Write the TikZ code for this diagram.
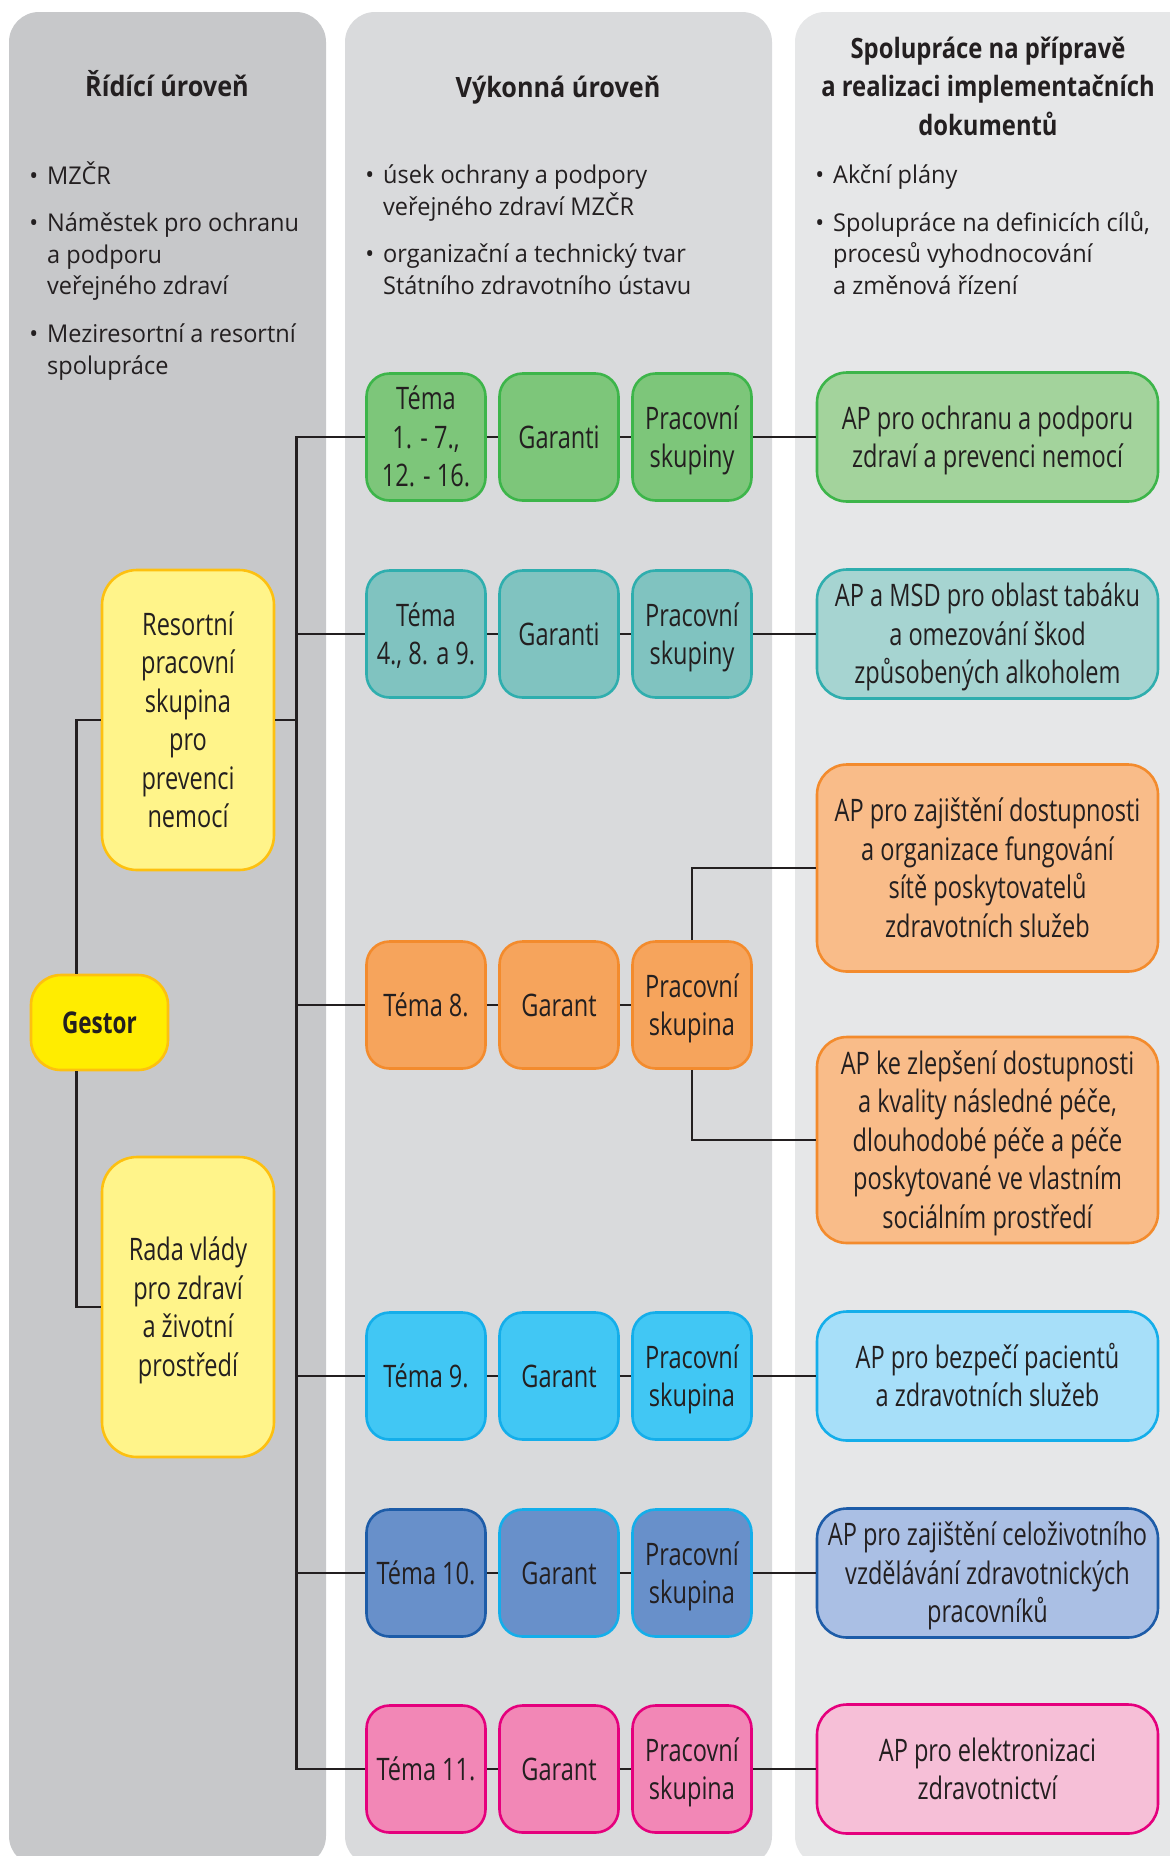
\documentclass[tikz,border=0pt]{standalone}
\usepackage{fontspec}
\setmainfont{Open Sans}
\newfontfamily\bulfont[FakeStretch=0.96]{Open Sans}
\newfontfamily\boxfont[FakeStretch=0.76]{Open Sans}
\newfontfamily\headfont[FakeStretch=0.9]{Open Sans}
\newfontfamily\headfontnarrow[FakeStretch=0.85]{Open Sans}
\newfontfamily\gestorfont[FakeStretch=0.75]{Open Sans}
\usepackage{tikz}

\definecolor{ink}{HTML}{231F20}
\definecolor{colA}{HTML}{C7C8CA}
\definecolor{colB}{HTML}{D9DADC}
\definecolor{colC}{HTML}{E6E7E8}
\definecolor{grnF}{HTML}{7DC67A}
\definecolor{grnD}{HTML}{3DB54A}
\definecolor{grnL}{HTML}{A3D39C}
\definecolor{tealF}{HTML}{80C3C0}
\definecolor{tealD}{HTML}{2FAEAE}
\definecolor{tealL}{HTML}{A6D4D1}
\definecolor{orgF}{HTML}{F6A45C}
\definecolor{orgD}{HTML}{F38B2D}
\definecolor{orgL}{HTML}{F9BC89}
\definecolor{skyF}{HTML}{41C7F4}
\definecolor{skyD}{HTML}{14AEEA}
\definecolor{skyL}{HTML}{A7DFF9}
\definecolor{bluF}{HTML}{6890CA}
\definecolor{bluD}{HTML}{1D5CA8}
\definecolor{bluL}{HTML}{AABFE4}
\definecolor{pnkF}{HTML}{F287B6}
\definecolor{pnkD}{HTML}{E5007D}
\definecolor{pnkL}{HTML}{F6BFD7}
\definecolor{ylwF}{HTML}{FFF48A}
\definecolor{ylwD}{HTML}{FDC010}
\definecolor{gstF}{HTML}{FFED00}

\newcommand{\pnt}{\llap{•\hspace{9pt}}}

\tikzset{
  box/.style={draw, line width=2.6pt, rounded corners=23pt, minimum width=119pt,
    minimum height=127pt, inner sep=0pt, align=center, text=ink,
    font=\boxfont\fontsize{31}{38.5}\selectfont,
    execute at end node=\rule[-8pt]{0pt}{8pt}},
  nlines/.style={execute at begin node={\rule{0pt}{\dimexpr 38.5pt*#1-8pt\relax}}},
  apbox/.style={box, rounded corners=30pt, minimum width=341pt, minimum height=129pt},
  sidebox/.style={box, rounded corners=35pt, minimum width=172pt, minimum height=300pt},
  link/.style={draw=ink, line width=2.6pt},
  bul/.style={anchor=north west, align=left, text=ink, inner sep=0pt,
    font=\bulfont\fontsize{24.5}{31.5}\selectfont,
    execute at begin node=\strut, execute at end node=\strut},
  head/.style={align=center, text=ink, inner sep=0pt,
    font=\headfont\bfseries\fontsize{28}{38.5}\selectfont}
}

\begin{document}
\begin{tikzpicture}[x=1pt,y=-1pt]
\useasboundingbox (0,0) rectangle (1170,1856);
\clip (0,0) rectangle (1170,1856);

% columns
\fill[colA, rounded corners=30pt] (9,12) rectangle (326,1866);
\fill[colB, rounded corners=30pt] (345,12) rectangle (772,1866);
\fill[colC, rounded corners=30pt] (795,12) rectangle (1230,1866);

% headings
\node[head, anchor=base] (h1) at (167,96) {Řídící úroveň};
\node[head, anchor=base] (h2) at (558,97) {Výkonná úroveň};
\node[head, font=\headfontnarrow\bfseries\fontsize{28}{38.5}\selectfont,
  execute at begin node=\strut, execute at end node=\strut] (h3) at (988,92)
  {Spolupráce na přípravě\\a realizaci implementačních\\dokumentů};

% bullet texts
\node[bul] (l1) at (47,161) {\pnt MZČR};
\node[bul] (l2) at (47,213) {\pnt Náměstek pro ochranu\\a podporu\\veřejného zdraví};
\node[bul] (l3) at (47,324) {\pnt Meziresortní a resortní\\spolupráce};
\node[bul] (v1) at (383,165) {\pnt úsek ochrany a podpory\\veřejného zdraví MZČR};
\node[bul] (v2) at (383,244) {\pnt organizační a technický tvar\\Státního zdravotního ústavu};
\node[bul] (s1) at (833,161) {\pnt Akční plány};
\node[bul] (s2) at (833,211) {\pnt Spolupráce na definicích cílů,\\procesů vyhodnocování\\a změnová řízení};

% left side
\node[sidebox, nlines=6, fill=ylwF, draw=ylwD] (rp) at (188,720)
  {Resortní\\pracovní\\skupina\\pro\\prevenci\\nemocí};
\node[box, nlines=1, fill=gstF, draw=ylwD, rounded corners=30pt, minimum width=137pt,
  minimum height=95pt, font=\gestorfont\bfseries\fontsize{30}{36}\selectfont] (ge) at (99.5,1022.5) {Gestor};
\node[sidebox, nlines=4, fill=ylwF, draw=ylwD] (rv) at (188,1307)
  {Rada vlády\\pro zdraví\\a životní\\prostředí};

% rows
\node[box, nlines=3, fill=grnF, draw=grnD] (t1) at (426,437) {Téma\\1. - 7.,\\12. - 16.};
\node[box, nlines=1, fill=grnF, draw=grnD] (g1) at (559,437) {Garanti};
\node[box, nlines=2, fill=grnF, draw=grnD] (p1) at (692,437) {Pracovní\\skupiny};
\node[apbox, nlines=2, fill=grnL, draw=grnD] (a1) at (987.5,437) {AP pro ochranu a podporu\\zdraví a prevenci nemocí};

\node[box, nlines=2, fill=tealF, draw=tealD] (t2) at (426,634) {Téma\\4., 8. a 9.};
\node[box, nlines=1, fill=tealF, draw=tealD] (g2) at (559,634) {Garanti};
\node[box, nlines=2, fill=tealF, draw=tealD] (p2) at (692,634) {Pracovní\\skupiny};
\node[apbox, nlines=3, fill=tealL, draw=tealD] (a2) at (987.5,634) {AP a MSD pro oblast tabáku\\a omezování škod\\způsobených alkoholem};

\node[box, nlines=1, fill=orgF, draw=orgD] (t3) at (426,1005) {Téma 8.};
\node[box, nlines=1, fill=orgF, draw=orgD] (g3) at (559,1005) {Garant};
\node[box, nlines=2, fill=orgF, draw=orgD] (p3) at (692,1005) {Pracovní\\skupina};
\node[apbox, nlines=4, fill=orgL, draw=orgD, minimum height=207pt] (a3) at (987.5,868)
  {AP pro zajištění dostupnosti\\a organizace fungování\\sítě poskytovatelů\\zdravotních služeb};
\node[apbox, nlines=5, fill=orgL, draw=orgD, minimum height=206pt] (a4) at (987.5,1140)
  {AP ke zlepšení dostupnosti\\a kvality následné péče,\\dlouhodobé péče a péče\\poskytované ve vlastním\\sociálním prostředí};

\node[box, nlines=1, fill=skyF, draw=skyD] (t4) at (426,1376) {Téma 9.};
\node[box, nlines=1, fill=skyF, draw=skyD] (g4) at (559,1376) {Garant};
\node[box, nlines=2, fill=skyF, draw=skyD] (p4) at (692,1376) {Pracovní\\skupina};
\node[apbox, nlines=2, fill=skyL, draw=skyD] (a5) at (987.5,1376) {AP pro bezpečí pacientů\\a zdravotních služeb};

\node[box, nlines=1, fill=bluF, draw=bluD] (t5) at (426,1573) {Téma 10.};
\node[box, nlines=1, fill=bluF, draw=skyD] (g5) at (559,1573) {Garant};
\node[box, nlines=2, fill=bluF, draw=skyD] (p5) at (692,1573) {Pracovní\\skupina};
\node[apbox, nlines=3, fill=bluL, draw=bluD] (a6) at (987.5,1573) {AP pro zajištění celoživotního\\vzdělávání zdravotnických\\pracovníků};

\node[box, nlines=1, fill=pnkF, draw=pnkD] (t6) at (426,1769) {Téma 11.};
\node[box, nlines=1, fill=pnkF, draw=pnkD] (g6) at (559,1769) {Garant};
\node[box, nlines=2, fill=pnkF, draw=pnkD] (p6) at (692,1769) {Pracovní\\skupina};
\node[apbox, nlines=2, fill=pnkL, draw=pnkD] (a7) at (987.5,1769) {AP pro elektronizaci\\zdravotnictví};

% connectors
\coordinate (trunk) at (296.5,437);
\draw[link] ([xshift=-23pt]ge.north) |- (rp.west);
\draw[link] ([xshift=-23pt]ge.south) |- (rv.west);
\draw[link] (rp.east) -- (rp.east -| trunk);
\draw[link] (t1.west) -- (trunk) |- (t6.west);
\draw[link] (t2.west) -- (t2.west -| trunk);
\draw[link] (t3.west) -- (t3.west -| trunk);
\draw[link] (t4.west) -- (t4.west -| trunk);
\draw[link] (t5.west) -- (t5.west -| trunk);

\draw[link] (t1) -- (g1) -- (p1) -- (a1);
\draw[link] (t2) -- (g2) -- (p2) -- (a2);
\draw[link] (t3) -- (g3) -- (p3);
\draw[link] (p3.north) |- (a3.west);
\draw[link] (p3.south) |- (a4.west);
\draw[link] (t4) -- (g4) -- (p4) -- (a5);
\draw[link] (t5) -- (g5) -- (p5) -- (a6);
\draw[link] (t6) -- (g6) -- (p6) -- (a7);
\end{tikzpicture}
\end{document}
